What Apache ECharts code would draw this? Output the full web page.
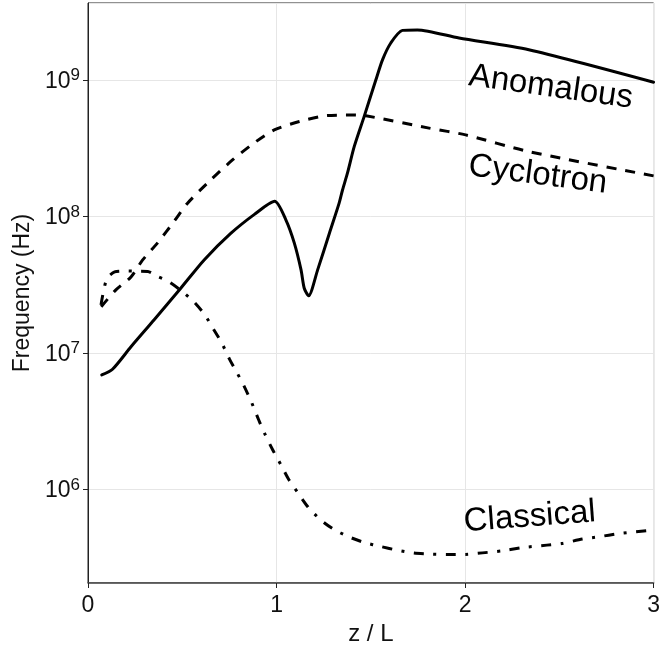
<!DOCTYPE html>
<html>
<head>
<meta charset="utf-8">
<script src="https://cdn.jsdelivr.net/npm/echarts@6/dist/echarts.min.js"></script>
<style>html,body{margin:0;padding:0;background:#fff;}#chart{width:663px;height:655px;}</style>
</head>
<body>
<div id="chart"></div>
<script>
// ---- data ----
const xTicks = [0, 1, 2, 3];
const yTickExponents = [6, 7, 8, 9];

const anomalousZ = [0.073, 0.13, 0.228, 0.351, 0.492, 0.616, 0.757, 0.881, 0.99, 1.05, 1.094, 1.13, 1.147, 1.17, 1.218, 1.28, 1.332, 1.35, 1.376, 1.412, 1.465, 1.527, 1.562, 1.606, 1.668, 1.747, 1.968, 2.338, 3.0];
const anomalousF = [6.9e6, 7.6e6, 1.11e7, 1.75e7, 2.98e7, 4.8e7, 7.5e7, 1.03e8, 1.29e8, 9.4e7, 6.4e7, 4.06e7, 2.98e7, 2.62e7, 4.06e7, 7.5e7, 1.25e8, 1.56e8, 2.07e8, 3.24e8, 5.4e8, 1.0e9, 1.4e9, 1.86e9, 2.3e9, 2.32e9, 2.02e9, 1.66e9, 9.6e8];

const cyclotronZ = [0.07, 0.148, 0.228, 0.29, 0.369, 0.457, 0.528, 0.651, 0.768, 0.891, 0.988, 1.121, 1.27, 1.4, 1.474, 1.809, 2.003, 2.338, 3.0];
const cyclotronF = [2.18e7, 2.9e7, 3.6e7, 4.8e7, 6.4e7, 9.2e7, 1.25e8, 1.85e8, 2.6e8, 3.53e8, 4.3e8, 4.95e8, 5.48e8, 5.52e8, 5.45e8, 4.43e8, 3.95e8, 2.98e8, 1.98e8];

const classicalZ = [0.069, 0.099, 0.141, 0.195, 0.26, 0.317, 0.37, 0.422, 0.493, 0.56, 0.62, 0.665, 0.71, 0.749, 0.792, 0.831, 0.869, 0.904, 0.941, 0.98, 1.023, 1.064, 1.115, 1.167, 1.232, 1.301, 1.38, 1.465, 1.555, 1.641, 1.729, 1.814, 1.915, 2.003, 2.092, 2.197, 2.304, 2.434, 2.513, 2.622, 2.709, 2.815, 3.0];
const classicalF = [2.25e7, 3.48e7, 3.92e7, 3.98e7, 3.97e7, 3.95e7, 3.63e7, 3.37e7, 2.87e7, 2.38e7, 1.9e7, 1.5e7, 1.18e7, 9.1e6, 7.1e6, 5.6e6, 4.3e6, 3.27e6, 2.5e6, 1.95e6, 1.52e6, 1.19e6, 9.4e5, 7.45e5, 6.03e5, 5.14e5, 4.53e5, 4.1e5, 3.82e5, 3.6e5, 3.43e5, 3.37e5, 3.34e5, 3.35e5, 3.44e5, 3.56e5, 3.76e5, 3.92e5, 4.03e5, 4.34e5, 4.51e5, 4.76e5, 5.05e5];

const seriesNames = ['Anomalous', 'Cyclotron', 'Classical'];
// label anchors in data coordinates (z, frequency) and tilt in degrees
const labelZ = [2.455, 2.386, 2.343];
const labelF = [8.8e8, 2.01e8, 6.28e5];
const labelTilt = [-8, -7.4, 4.3];

const yMin = 2.07e5, yMax = 3.65e9;
// ---------------------------------------

const FONT = '"Liberation Sans", Arial, Helvetica, sans-serif';
const zip = (a, b) => a.map((v, i) => [v, b[i]]);

const chart = echarts.init(document.getElementById('chart'), null, {renderer: 'canvas'});

const lineBase = {type: 'line', showSymbol: false, symbol: 'none', smooth: 0.25, silent: true, animation: false};

chart.setOption({
  animation: false,
  backgroundColor: '#fff',
  grid: {left: 88, right: 8, top: 3, bottom: 72, show: true, borderColor: '#222', borderWidth: 1, backgroundColor: 'transparent'},
  xAxis: {
    type: 'value', min: xTicks[0], max: xTicks[xTicks.length - 1], interval: 1,
    name: 'z / L', nameLocation: 'middle', nameGap: 37,
    nameTextStyle: {fontSize: 24, color: '#111', fontFamily: FONT},
    axisLine: {show: true, lineStyle: {color: '#444', width: 1.5}},
    axisTick: {show: true, inside: false, length: 5, lineStyle: {color: '#222'}},
    axisLabel: {fontSize: 23, color: '#111', fontFamily: FONT, margin: 11,
      formatter: v => xTicks.includes(v) ? String(v) : ''},
    splitLine: {show: true, lineStyle: {color: '#e6e6e6', width: 1}}
  },
  yAxis: {
    type: 'log', logBase: 10, min: yMin, max: yMax,
    name: 'Frequency (Hz)', nameLocation: 'middle', nameGap: 53,
    nameTextStyle: {fontSize: 23, color: '#111', fontFamily: FONT},
    axisLine: {show: true, lineStyle: {color: '#222', width: 1}},
    axisTick: {show: true, inside: false, length: 5, lineStyle: {color: '#222'}},
    axisLabel: {
      margin: 8, showMinLabel: false, showMaxLabel: false,
      formatter: v => {
        const e = Math.log10(v);
        const r = Math.round(e);
        if (Math.abs(e - r) > 1e-6 || !yTickExponents.includes(r)) return '';
        return '{b|10}{s|' + r + '}';
      },
      rich: {
        b: {fontSize: 23, color: '#111', fontFamily: FONT, lineHeight: 26, verticalAlign: 'bottom'},
        s: {fontSize: 17, color: '#111', fontFamily: FONT, lineHeight: 26, verticalAlign: 'top', padding: [0, 0, 6, 0]}
      }
    },
    splitLine: {show: true, lineStyle: {color: '#e6e6e6', width: 1}},
    minorTick: {show: false}, minorSplitLine: {show: false}
  },
  series: [
    Object.assign({}, lineBase, {name: seriesNames[0], data: zip(anomalousZ, anomalousF),
      lineStyle: {color: '#000', width: 3, type: 'solid', cap: 'round', join: 'round'}}),
    Object.assign({}, lineBase, {name: seriesNames[1], data: zip(cyclotronZ, cyclotronF),
      lineStyle: {color: '#000', width: 3, type: [10, 9], cap: 'butt', join: 'round'}}),
    Object.assign({}, lineBase, {name: seriesNames[2], data: zip(classicalZ, classicalF),
      lineStyle: {color: '#000', width: 3, type: [10, 9.5, 3, 9.5], cap: 'butt', join: 'round'}})
  ]
});

// place series labels using the chart's own coordinate conversion
const graphics = seriesNames.map((name, i) => {
  const p = chart.convertToPixel({gridIndex: 0}, [labelZ[i], labelF[i]]);
  return {
    type: 'text', x: p[0], y: p[1], rotation: labelTilt[i] * Math.PI / 180, silent: true,
    style: {text: name, fontSize: 33, fontFamily: FONT, fill: '#000', align: 'center', verticalAlign: 'middle'}
  };
});
chart.setOption({graphic: graphics});
</script>
</body>
</html>
